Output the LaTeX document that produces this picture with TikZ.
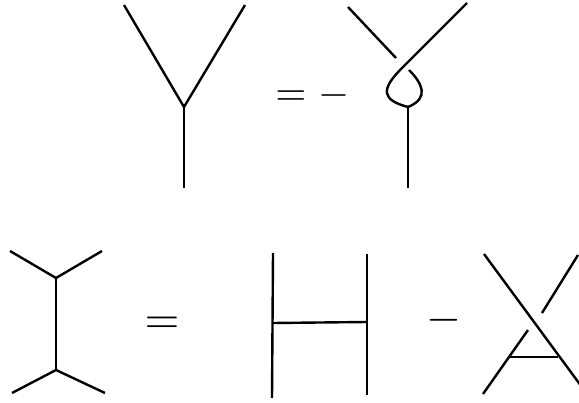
\documentclass[tikz,border=0pt]{standalone}
\usepackage{amsmath}
\usepackage{amssymb}

\tikzset{
  leg/.style={line width=2.4pt},
  sign/.style={anchor=base,inner sep=0pt,scale=4},
  bigsign/.style={sign,scale=1.12}
}

\begin{document}
\begin{tikzpicture}[x=1pt,y=-1pt]
\useasboundingbox (0,0) rectangle (579,403);
% plain vertex
\coordinate (ya) at (124,5);
\coordinate (yb) at (245,5);
\coordinate (yv) at (184,107);
\coordinate (ys) at (184,188);
\draw [leg] (ya) -- (yv) -- (yb);
\draw [leg] (yv) -- (ys);
% twisted vertex
\coordinate (ta) at (348,7);
\coordinate (tagap) at (396,58);
\coordinate (taback) at (409,70);
\coordinate (tb) at (467,3);
\coordinate (tbturn) at (402,68);
\coordinate (tv) at (408,107);
\coordinate (ts) at (408,188);
\draw [leg] (ta) -- (tagap);
\draw [leg] (taback) .. controls (422,83) and (430,98) .. (tv);
\draw [leg] (tb) -- (tbturn) .. controls (380,90) and (382,100) .. (tv);
\draw [leg] (tv) -- (ts);
% vertical ladder
\coordinate (la) at (10,251);
\coordinate (lb) at (102,251);
\coordinate (lu) at (56,278);
\coordinate (ld) at (56,370);
\coordinate (lc) at (12,393);
\coordinate (le) at (105,393);
\draw [leg] (la) -- (lu) -- (lb);
\draw [leg] (lu) -- (ld);
\draw [leg] (lc) -- (ld) -- (le);
% horizontal ladder
\coordinate (ha) at (273,253);
\coordinate (hc) at (272,398);
\coordinate (hb) at (367,254);
\coordinate (hd) at (367,395);
\coordinate (hl) at (273,323);
\coordinate (hr) at (367,322);
\draw [leg] (ha) -- (hc);
\draw [leg] (hb) -- (hd);
\draw [leg] (hl) -- (hr);
% crossed ladder
\coordinate (xa) at (484,254);
\coordinate (xd) at (587,394);
\coordinate (xb) at (578,255);
\coordinate (xbgap) at (542,313);
\coordinate (xcgap) at (528,330);
\coordinate (xc) at (483,394);
\coordinate (xl) at (509,357);
\coordinate (xr) at (558,357);
\draw [leg] (xa) -- (xd);
\draw [leg] (xb) -- (xbgap);
\draw [leg] (xcgap) -- (xc);
\draw [leg] (xl) -- (xr);
% signs
\node [sign] (eqtop) at (291,106) {$=$};
\node [sign] (mintop) at (334,106) {$-$};
\node [bigsign] (eqbot) at (162,334) {$=$};
\node [bigsign] (minbot) at (444,332) {$-$};
\end{tikzpicture}
\end{document}
